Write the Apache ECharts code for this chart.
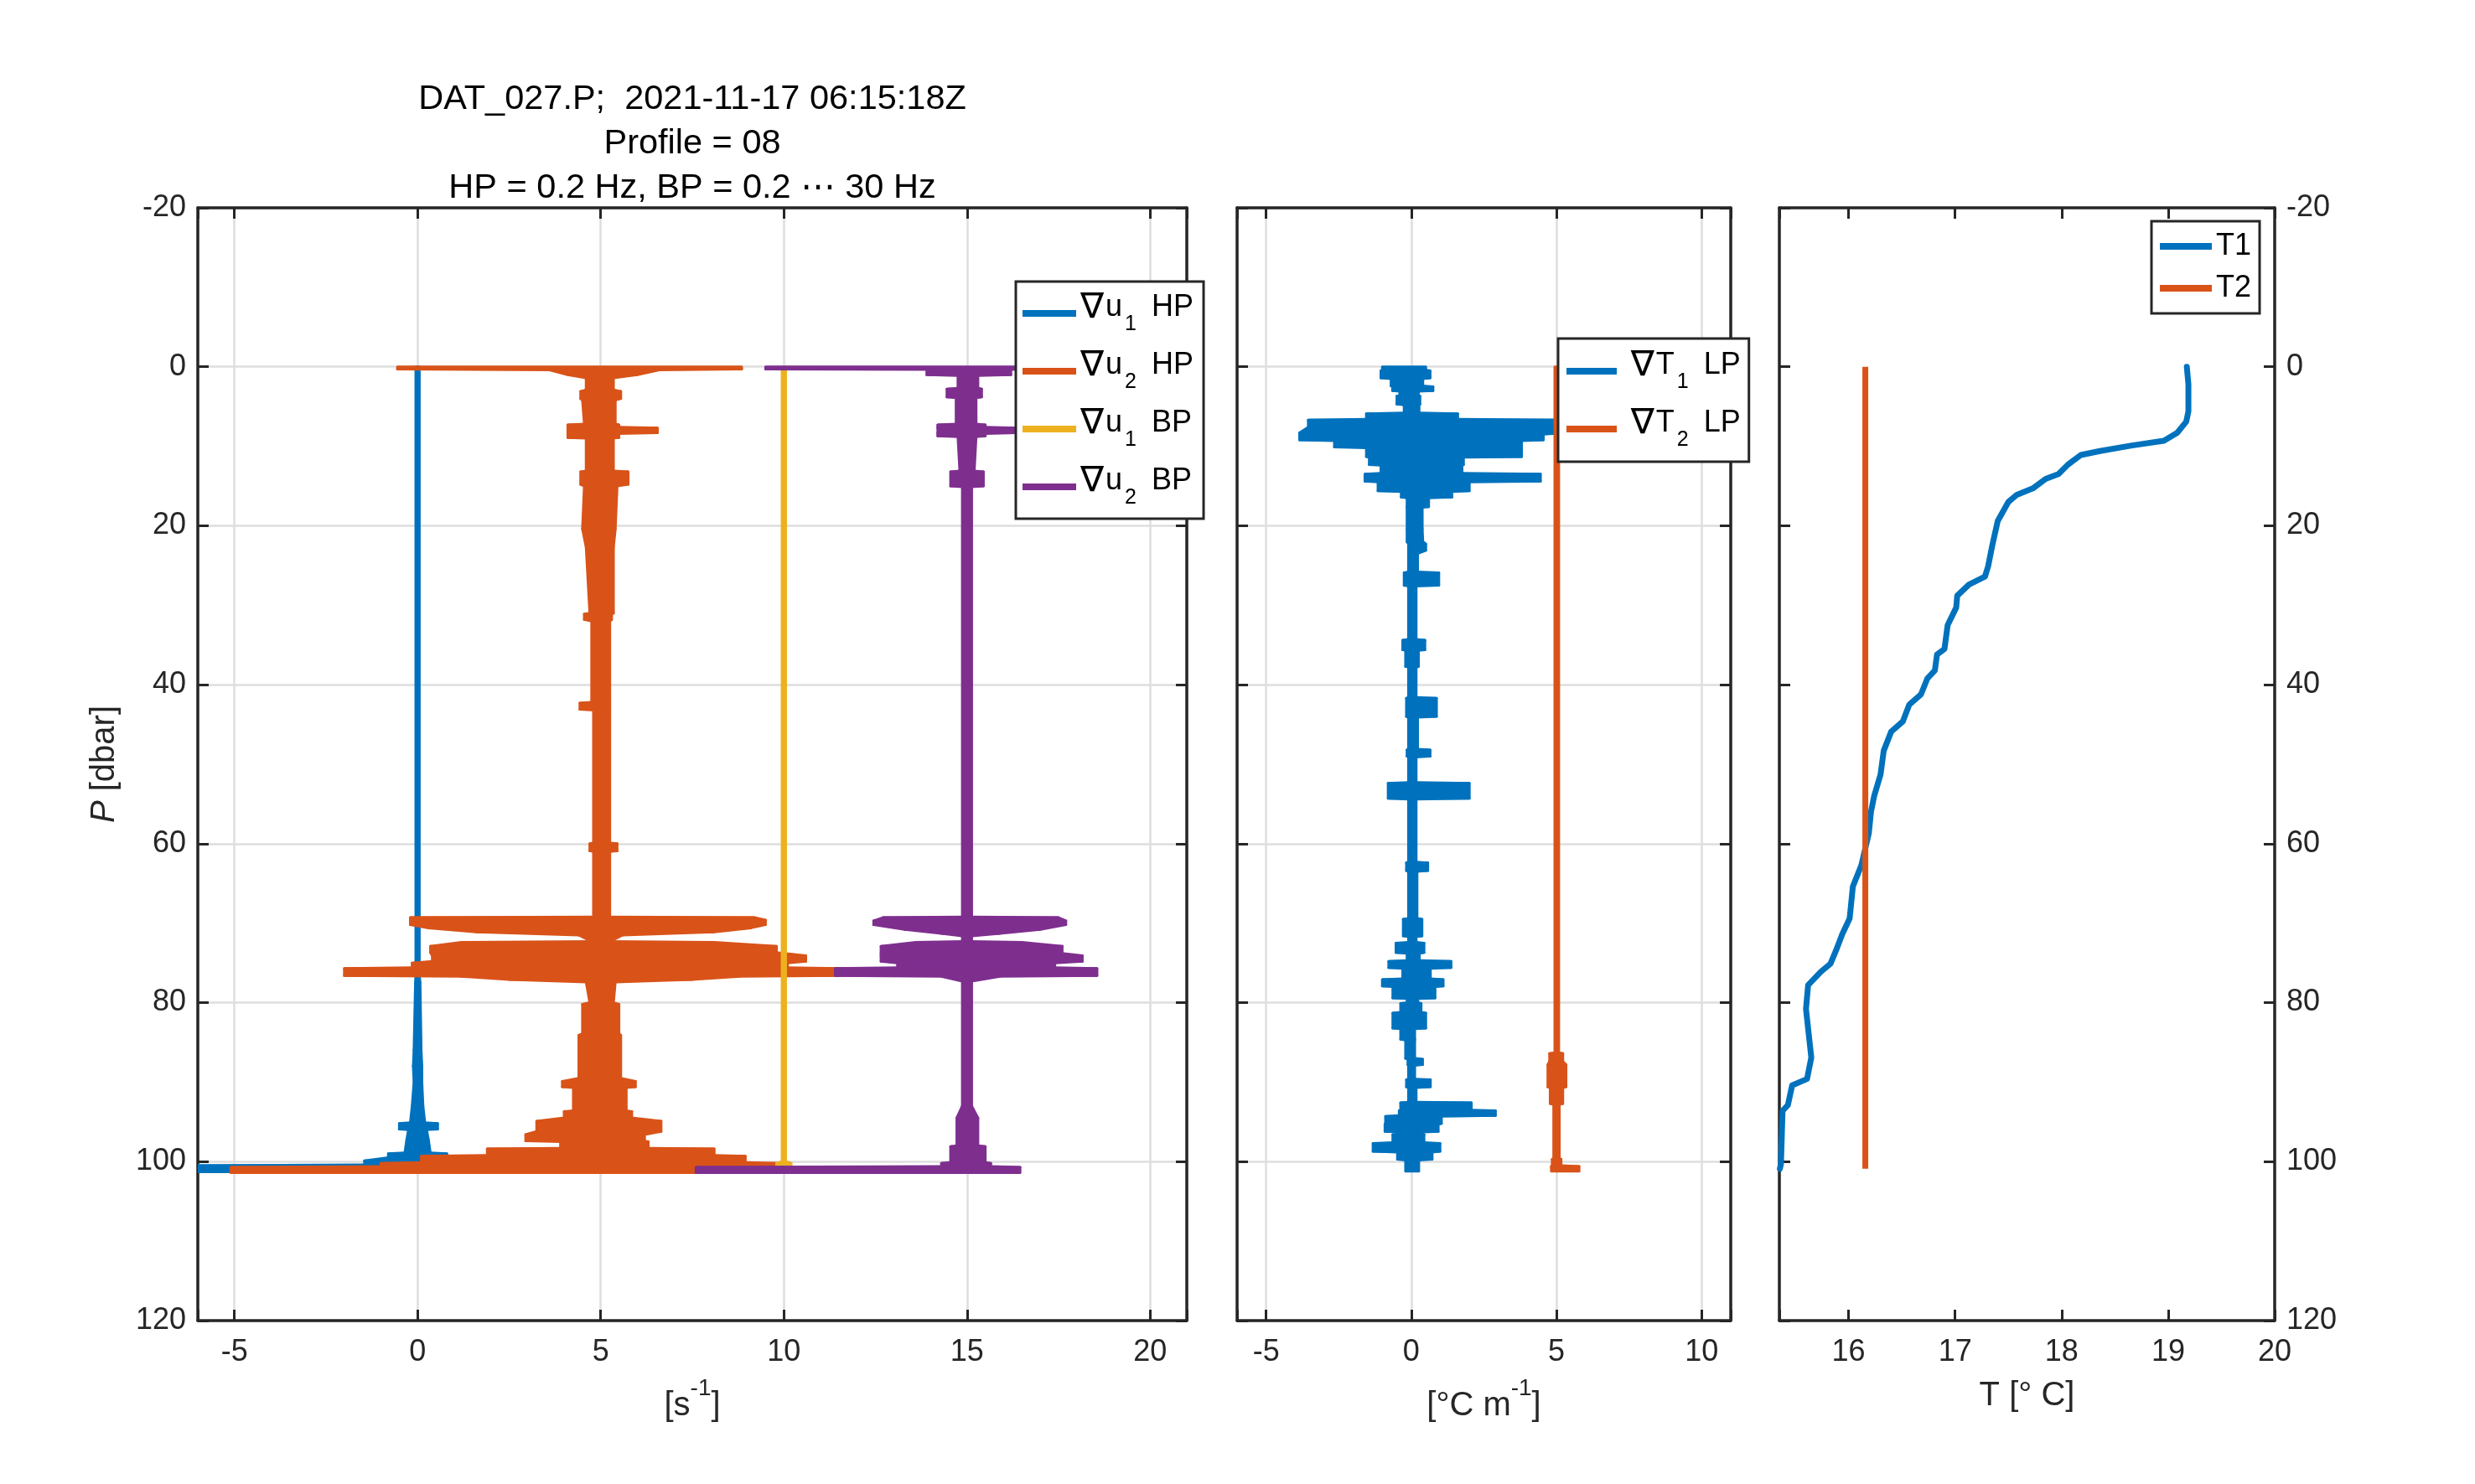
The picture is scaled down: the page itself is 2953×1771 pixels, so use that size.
<!DOCTYPE html>
<html>
<head>
<meta charset="utf-8">
<script src="https://cdn.jsdelivr.net/npm/echarts@6/dist/echarts.min.js"></script>
<style>html,body{margin:0;padding:0;background:#fff}#c{width:2953px;height:1771px}</style>
</head>
<body>
<div id="c"></div>
<script>
// ---------------- DATA ----------------
// Pressure axis ticks [dbar]
const pressureTicks = [-20, 0, 20, 40, 60, 80, 100, 120];
// Shear panel x ticks, temperature-gradient panel x ticks, temperature panel x ticks
const shearTicks = [-5, 0, 5, 10, 15, 20];
const gradTTicks = [-5, 0, 5, 10];
const tempTicks = [16, 17, 18, 19, 20];

// Envelope of each noisy profile: [P (dbar), min value, max value] (offsets already applied)
const u1HP = [
  [0, -0.05, 0.05], [76.5, -0.05, 0.05], [77.5, -0.06, 0.07], [86, -0.1, 0.1], [88, -0.12, 0.12],
  [90, -0.1, 0.12], [93, -0.15, 0.15], [95.1, -0.2, 0.2], [95.2, -0.5, 0.55], [95.9, -0.5, 0.55],
  [96.0, -0.25, 0.25], [97.3, -0.3, 0.3], [98.9, -0.35, 0.35], [99.0, -0.8, 0.8], [99.5, -0.8, 0.8],
  [99.9, -1.45, 0.9], [100.4, -1.45, 0.9], [100.5, -6.5, 0.9], [101.3, -6.5, 0.9]
];
const u2HP = [
  [0.0, -0.55, 8.85], [0.3, -0.55, 8.85], [0.4, 3.6, 6.6], [1.0, 4.1, 6.0], [1.4, 4.6, 5.35],
  [2.9, 4.6, 5.35], [3.1, 4.45, 5.55], [4.0, 4.45, 5.55], [4.2, 4.5, 5.4], [7.2, 4.55, 5.4],
  [7.3, 4.1, 5.5], [7.6, 4.1, 5.5], [7.7, 4.1, 6.55], [8.3, 4.1, 6.55], [8.4, 4.1, 5.5],
  [8.9, 4.1, 5.5], [9.0, 4.6, 5.35], [13.1, 4.6, 5.35], [13.2, 4.45, 5.75], [14.8, 4.45, 5.75],
  [15.0, 4.55, 5.45], [20.4, 4.5, 5.4], [22.7, 4.6, 5.35], [31.0, 4.7, 5.35], [31.1, 4.55, 5.3],
  [31.8, 4.55, 5.3], [32.0, 4.75, 5.25], [42.2, 4.75, 5.25], [42.3, 4.43, 5.25], [43.1, 4.43, 5.25],
  [43.2, 4.8, 5.25], [59.9, 4.8, 5.25], [60.0, 4.7, 5.45], [60.9, 4.7, 5.45], [61.0, 4.8, 5.25],
  [69.2, 4.8, 5.25], [69.3, -0.2, 9.2], [69.6, -0.2, 9.5], [70.2, -0.2, 9.5], [70.6, 0.3, 9.1],
  [71.1, 1.6, 8.1], [71.5, 4.4, 5.6], [72.3, 4.75, 5.25], [72.4, 1.2, 8.1], [72.9, 0.35, 9.8],
  [73.7, 0.35, 9.8], [74.1, 0.4, 10.6], [74.8, 0.4, 10.6], [75.0, -0.15, 10.1], [75.6, -0.15, 10.1],
  [75.7, -2.0, 11.5], [76.6, -2.0, 11.5], [76.7, 1.2, 8.8], [77.1, 2.5, 7.5], [77.4, 4.6, 5.4],
  [80.0, 4.7, 5.35], [80.2, 4.5, 5.5], [83.9, 4.5, 5.5], [84.1, 4.4, 5.55], [89.5, 4.4, 5.55],
  [89.9, 3.95, 5.95], [90.6, 3.95, 5.95], [90.7, 4.25, 5.7], [93.6, 4.25, 5.7], [93.7, 4.0, 5.85],
  [94.5, 4.0, 5.85], [94.9, 3.25, 6.65], [96.2, 3.25, 6.65], [96.6, 2.95, 6.2], [97.4, 2.95, 6.2],
  [97.5, 3.9, 6.3], [98.3, 3.9, 6.3], [98.4, 1.9, 8.1], [99.2, 1.9, 8.1], [99.3, 0.1, 8.95],
  [100.1, 0.1, 8.95], [100.2, -1.0, 9.8], [100.6, -1.0, 9.8], [100.7, -5.1, 9.0], [101.4, -5.1, 9.0]
];
const u1BP = [
  [0, 9.95, 10.05], [100.0, 9.95, 10.05], [100.2, 9.8, 10.2], [101.4, 9.8, 10.2]
];
const u2BP = [
  [0.0, 9.5, 18.8], [0.3, 9.5, 18.8], [0.35, 13.9, 16.2], [1.0, 13.9, 16.2], [1.1, 14.75, 15.3],
  [2.7, 14.75, 15.3], [2.8, 14.45, 15.4], [3.8, 14.45, 15.4], [3.9, 14.7, 15.25], [7.2, 14.7, 15.25],
  [7.3, 14.2, 15.5], [7.6, 14.2, 15.5], [7.7, 14.2, 16.35], [8.3, 14.2, 16.35], [8.4, 14.2, 15.5],
  [8.7, 14.2, 15.5], [8.8, 14.75, 15.25], [13.1, 14.8, 15.2], [13.2, 14.55, 15.45], [15.0, 14.55, 15.45],
  [15.1, 14.87, 15.13], [69.2, 14.87, 15.13], [69.3, 12.7, 17.5], [69.7, 12.45, 17.7], [70.2, 12.45, 17.7],
  [70.8, 13.3, 17.0], [71.3, 14.3, 15.9], [71.6, 14.87, 15.13], [72.3, 14.87, 15.13], [72.4, 13.6, 16.5],
  [72.9, 12.65, 17.6], [73.8, 12.65, 17.6], [74.1, 12.65, 18.15], [74.8, 12.65, 18.15], [75.0, 13.1, 17.4],
  [75.6, 13.1, 17.4], [75.7, 11.4, 18.55], [76.6, 11.4, 18.55], [76.7, 14.3, 15.9], [77.3, 14.87, 15.13],
  [93.0, 14.87, 15.13], [94.5, 14.72, 15.3], [98.0, 14.72, 15.3], [98.1, 14.55, 15.5], [100.1, 14.55, 15.5],
  [100.2, 14.3, 15.65], [100.6, 14.3, 15.65], [100.7, 7.6, 16.45], [101.4, 7.6, 16.45]
];
const T1LP = [
  [0.0, -1.0, 0.5], [0.4, -1.0, 0.5], [0.5, -1.05, 0.65], [1.4, -1.05, 0.65], [1.5, -0.7, 0.4],
  [2.4, -0.7, 0.4], [2.5, -0.65, 0.75], [3.0, -0.65, 0.75], [3.1, -0.4, 0.25], [3.6, -0.4, 0.25],
  [3.7, -0.5, 0.3], [4.7, -0.5, 0.3], [4.8, -0.25, 0.27], [5.8, -0.25, 0.27], [5.9, -1.55, 1.6],
  [6.6, -1.55, 1.6], [6.7, -3.55, 5.3], [7.6, -3.55, 5.3], [8.3, -3.85, 5.3], [8.5, -3.85, 4.55],
  [9.2, -3.85, 4.55], [9.3, -2.65, 3.8], [10.1, -2.65, 3.8], [10.2, -1.55, 3.8], [11.3, -1.55, 3.8],
  [11.4, -1.45, 1.8], [12.3, -1.45, 1.8], [12.4, -1.05, 1.75], [13.4, -1.05, 1.75], [13.5, -1.6, 4.45],
  [14.4, -1.6, 4.45], [14.5, -1.15, 2.0], [15.6, -1.15, 2.0], [15.7, -0.35, 1.4], [16.4, -0.35, 1.4],
  [16.5, -0.15, 0.6], [17.6, -0.15, 0.6], [17.7, -0.15, 0.38], [20.4, -0.15, 0.38], [22.0, -0.15, 0.4],
  [22.3, -0.1, 0.5], [23.1, -0.1, 0.5], [23.5, -0.1, 0.22], [25.8, -0.1, 0.22], [25.9, -0.25, 0.95],
  [27.5, -0.25, 0.95], [27.6, -0.1, 0.17], [34.3, -0.1, 0.17], [34.4, -0.3, 0.47], [35.6, -0.3, 0.47],
  [35.7, -0.2, 0.25], [37.7, -0.2, 0.25], [37.8, -0.1, 0.17], [41.6, -0.1, 0.17], [41.7, -0.17, 0.87],
  [44.0, -0.17, 0.87], [44.1, -0.1, 0.22], [48.1, -0.1, 0.22], [48.2, -0.15, 0.65], [49.0, -0.15, 0.65],
  [49.1, -0.1, 0.17], [52.3, -0.1, 0.17], [52.4, -0.8, 2.0], [54.3, -0.8, 2.0], [54.4, -0.1, 0.17],
  [62.3, -0.1, 0.17], [62.4, -0.17, 0.57], [63.4, -0.17, 0.57], [63.5, -0.1, 0.2], [69.4, -0.1, 0.2],
  [69.5, -0.28, 0.37], [71.6, -0.28, 0.37], [71.7, -0.1, 0.17], [72.4, -0.1, 0.17], [72.5, -0.53, 0.44],
  [73.7, -0.53, 0.44], [73.8, -0.15, 0.28], [74.7, -0.15, 0.28], [74.8, -0.78, 1.37], [75.6, -0.78, 1.37],
  [75.7, -0.3, 0.66], [77.0, -0.3, 0.66], [77.1, -1.0, 1.1], [77.9, -1.0, 1.1], [78.0, -0.64, 0.82],
  [79.4, -0.64, 0.82], [79.5, -0.15, 0.23], [80.0, -0.15, 0.23], [80.1, -0.37, 0.34], [81.2, -0.37, 0.34],
  [81.3, -0.64, 0.5], [83.2, -0.64, 0.5], [83.3, -0.37, 0.12], [84.6, -0.37, 0.12], [84.7, -0.2, 0.12],
  [87.0, -0.2, 0.12], [87.1, -0.12, 0.39], [87.8, -0.12, 0.39], [87.9, -0.1, 0.12], [89.6, -0.1, 0.12],
  [89.7, -0.17, 0.66], [90.6, -0.17, 0.66], [90.7, -0.1, 0.17], [92.5, -0.1, 0.17], [92.6, -0.37, 2.07],
  [93.5, -0.37, 2.07], [93.6, -0.42, 2.9], [94.2, -0.42, 2.9], [94.3, -0.89, 1.04], [95.2, -0.89, 1.04],
  [95.3, -0.91, 0.93], [96.2, -0.91, 0.93], [96.3, -0.3, 0.3], [96.5, -0.3, 0.3], [96.6, -0.64, 0.44],
  [97.6, -0.64, 0.44], [97.7, -1.32, 0.99], [98.7, -1.32, 0.99], [98.8, -0.48, 0.72], [99.7, -0.48, 0.72],
  [99.8, -0.2, 0.26], [101.2, -0.2, 0.26]
];
const T2LP = [
  [0, 4.94, 5.08], [86.3, 4.94, 5.08], [86.4, 4.76, 5.22], [87.4, 4.76, 5.22], [87.8, 4.7, 5.33],
  [90.6, 4.7, 5.33], [90.7, 4.78, 5.22], [92.7, 4.78, 5.22], [92.8, 4.9, 5.1], [99.6, 4.9, 5.1],
  [99.7, 4.85, 5.16], [100.5, 4.85, 5.16], [100.6, 4.82, 5.78], [101.2, 4.82, 5.78]
];
// Temperature profiles: [T (deg C), P (dbar)]
const T1 = [
  [19.175, 0], [19.19, 2.2], [19.19, 5.6], [19.17, 6.9], [19.085, 8.3], [18.96, 9.3], [18.66, 9.9],
  [18.36, 10.6], [18.18, 11.1], [18.06, 12.3], [17.97, 13.5], [17.85, 14.1], [17.73, 15.3], [17.58, 16.1],
  [17.5, 17.0], [17.4, 19.4], [17.35, 22.4], [17.31, 25.1], [17.28, 26.4], [17.13, 27.4], [17.02, 28.8],
  [17.01, 30.3], [16.93, 32.5], [16.9, 35.5], [16.83, 36.2], [16.81, 38.2], [16.74, 39.2], [16.68, 41.2],
  [16.57, 42.5], [16.51, 44.6], [16.4, 45.9], [16.33, 48.3], [16.3, 51.3], [16.24, 54.0], [16.21, 56.0],
  [16.19, 58.7], [16.12, 62.7], [16.04, 65.4], [16.01, 69.4], [15.94, 71.4], [15.88, 73.5], [15.83, 75.1],
  [15.74, 76.1], [15.62, 77.8], [15.6, 80.8], [15.65, 86.9], [15.61, 89.6], [15.47, 90.4], [15.43, 92.9],
  [15.38, 93.6], [15.365, 100.3], [15.355, 100.9]
];
const T2 = [[16.157, 0], [16.157, 100.9]];

// ---------------- STYLE ----------------
const FONT = '"Liberation Sans", Arial, Helvetica, "DejaVu Sans", sans-serif';
const AXC = '#262626';
const GRIDC = '#dedede';
const BLUE = '#0072BD', ORANGE = '#D95319', YELLOW = '#EDB120', PURPLE = '#7E2F8E';

const grids = [
  { left: 236, top: 248, width: 1180, height: 1328 },
  { left: 1476, top: 248, width: 589, height: 1328 },
  { left: 2123, top: 248, width: 591, height: 1328 }
];

function axisBase(extra) {
  return Object.assign({
    type: 'value',
    axisLine: { show: true, onZero: false, lineStyle: { color: AXC, width: 3.5 } },
    axisTick: { show: true, inside: true, length: 13, lineStyle: { color: AXC, width: 3 } },
    axisLabel: { show: false },
    splitLine: { show: false }
  }, extra);
}
const tickLabel = (extra) => Object.assign({
  show: true, fontSize: 36, color: AXC, fontFamily: FONT
}, extra);
const splitL = { show: true, lineStyle: { color: GRIDC, width: 2.5 } };

const supRich = {
  a: { fontSize: 40, lineHeight: 70, fontFamily: FONT, color: AXC },
  p: { fontSize: 28, lineHeight: 28, fontFamily: FONT, color: AXC, verticalAlign: 'top' }
};

function xPair(gi, min, max, step, ticks, name, nameStyle, grid) {
  const bottom = axisBase({
    gridIndex: gi, position: 'bottom', min, max, minInterval: step, maxInterval: step,
    axisLabel: tickLabel({ margin: 20, customValues: ticks }),
    splitLine: grid ? splitL : { show: false },
    name, nameLocation: 'middle', nameGap: 67, nameTextStyle: nameStyle
  });
  const top = axisBase({ gridIndex: gi, position: 'top', min, max, minInterval: step, maxInterval: step });
  return [bottom, top];
}
function yPair(gi, labelSide, grid, name) {
  const yl = axisBase({
    gridIndex: gi, position: 'left', min: -20, max: 120, interval: 20, inverse: true,
    splitLine: grid ? splitL : { show: false }
  });
  const yr = axisBase({
    gridIndex: gi, position: 'right', min: -20, max: 120, interval: 20, inverse: true
  });
  if (labelSide === 'left') {
    yl.axisLabel = tickLabel({ margin: 14, customValues: pressureTicks });
    yl.name = name;
    yl.nameLocation = 'middle';
    yl.nameGap = 87;
    yl.nameTextStyle = { fontSize: 40, lineHeight: 48, fontFamily: FONT, color: AXC,
      rich: { i: { fontSize: 40, lineHeight: 48, fontStyle: 'italic', fontFamily: FONT, color: AXC } } };
  }
  if (labelSide === 'right') {
    yr.axisLabel = tickLabel({ margin: 14, customValues: pressureTicks });
  }
  return [yl, yr];
}

const xAxes = [].concat(
  xPair(0, -6, 21, 5, shearTicks, '{a|[s}{p|-1}{a|]}', { fontSize: 40, fontFamily: FONT, color: AXC, rich: supRich }, true),
  xPair(1, -6, 11, 5, gradTTicks, '{a|[°C m}{p|-1}{a|]}', { fontSize: 40, fontFamily: FONT, color: AXC, rich: supRich }, true),
  xPair(2, 15.35, 20, 1, tempTicks, 'T [° C]', { fontSize: 40, lineHeight: 48, fontFamily: FONT, color: AXC }, false)
);
xAxes[4].nameGap = 66;
const yAxes = [].concat(
  yPair(0, 'left', true, '{i|P} [dbar]'),
  yPair(1, 'none', true),
  yPair(2, 'right', false)
);

function envSeries(name, rows, color, ax) {
  return {
    type: 'custom', name, xAxisIndex: ax, yAxisIndex: ax, clip: true, silent: true,
    itemStyle: { color },
    encode: { x: [1, 2], y: 0 },
    data: rows,
    renderItem(params, api) {
      const i = params.dataIndex;
      if (i >= rows.length - 1) return null;
      const n = rows[i + 1];
      const pts = [
        api.coord([api.value(1), api.value(0)]),
        api.coord([api.value(2), api.value(0)]),
        api.coord([n[2], n[0]]),
        api.coord([n[1], n[0]])
      ];
      return { type: 'polygon', shape: { points: pts },
        style: { fill: color, stroke: color, lineWidth: 3, lineJoin: 'round' } };
    }
  };
}

// rich legend text: all tokens middle-aligned, vertical shifts done with padding
const legRich = {
  n: { fontSize: 42, fontFamily: FONT, color: '#000', lineHeight: 46, padding: [0, 0, 14, 0] },
  a: { fontSize: 36, fontFamily: FONT, color: '#000', lineHeight: 46, padding: [0, 0, 14, 2] },
  s: { fontSize: 25, fontFamily: FONT, color: '#000', lineHeight: 46, padding: [26, 0, 0, 3] },
  b: { fontSize: 36, fontFamily: FONT, color: '#000', lineHeight: 46, padding: [0, 0, 14, 8] }
};
const legendLabels = {
  'u1HP': '{n|∇}{a|u}{s|1}{b| HP}', 'u2HP': '{n|∇}{a|u}{s|2}{b| HP}',
  'u1BP': '{n|∇}{a|u}{s|1}{b| BP}', 'u2BP': '{n|∇}{a|u}{s|2}{b| BP}',
  'T1LP': '{n| ∇}{a|T}{s|1}{b| LP}', 'T2LP': '{n| ∇}{a|T}{s|2}{b| LP}'
};
const legBox = { orient: 'vertical', icon: 'rect', itemHeight: 8, selectedMode: false,
  backgroundColor: '#fff', borderColor: AXC, borderWidth: 3, borderRadius: 0 };

const option = {
  animation: false,
  backgroundColor: '#fff',
  grid: grids.map(g => Object.assign({ outerBoundsMode: 'none', containLabel: false }, g)),
  xAxis: xAxes,
  yAxis: yAxes,
  legend: [
    Object.assign({}, legBox, { data: ['u1HP', 'u2HP', 'u1BP', 'u2BP'], left: 1212, top: 336,
      padding: [10, 12, 10, 8], itemGap: 13, itemWidth: 64,
      formatter: n => legendLabels[n], textStyle: { fontSize: 36, fontFamily: FONT, color: '#000', lineHeight: 46, rich: legRich } }),
    Object.assign({}, legBox, { data: ['T1LP', 'T2LP'], left: 1859, top: 404,
      padding: [11, 10, 11, 10], itemGap: 13, itemWidth: 60,
      formatter: n => legendLabels[n], textStyle: { fontSize: 36, fontFamily: FONT, color: '#000', lineHeight: 46, rich: legRich } }),
    Object.assign({}, legBox, { data: ['T1', 'T2'], left: 2567, top: 264,
      padding: [8.5, 10, 8.5, 10], itemGap: 7, itemWidth: 62,
      textStyle: { fontSize: 36, lineHeight: 43, fontFamily: FONT, color: '#000' } })
  ],
  graphic: [
    { type: 'text', x: 826, y: 119, style: { text: 'DAT_027.P;  2021-11-17 06:15:18Z', fontSize: 41.5, fontFamily: FONT, fill: '#000', align: 'center', verticalAlign: 'middle', textAlign: 'center', textVerticalAlign: 'middle' } },
    { type: 'text', x: 826, y: 172, style: { text: 'Profile = 08', fontSize: 41.5, fontFamily: FONT, fill: '#000', align: 'center', verticalAlign: 'middle', textAlign: 'center', textVerticalAlign: 'middle' } },
    { type: 'text', x: 826, y: 225, style: { text: 'HP = 0.2 Hz, BP = 0.2 ⋯ 30 Hz', fontSize: 41.5, fontFamily: FONT, fill: '#000', align: 'center', verticalAlign: 'middle', textAlign: 'center', textVerticalAlign: 'middle' } }
  ],
  series: [
    envSeries('u1HP', u1HP, BLUE, 0),
    envSeries('u2HP', u2HP, ORANGE, 0),
    envSeries('u1BP', u1BP, YELLOW, 0),
    envSeries('u2BP', u2BP, PURPLE, 0),
    envSeries('T1LP', T1LP, BLUE, 2),
    envSeries('T2LP', T2LP, ORANGE, 2),
    { type: 'line', name: 'T1', xAxisIndex: 4, yAxisIndex: 4, data: T1, showSymbol: false, symbol: 'none',
      clip: true, lineStyle: { color: BLUE, width: 7, join: 'round', cap: 'round' }, itemStyle: { color: BLUE } },
    { type: 'line', name: 'T2', xAxisIndex: 4, yAxisIndex: 4, data: T2, showSymbol: false, symbol: 'none',
      clip: true, lineStyle: { color: ORANGE, width: 7 }, itemStyle: { color: ORANGE } }
  ]
};

const chart = echarts.init(document.getElementById('c'), null, { renderer: 'canvas', width: 2953, height: 1771 });
chart.setOption(option);
</script>
</body>
</html>
